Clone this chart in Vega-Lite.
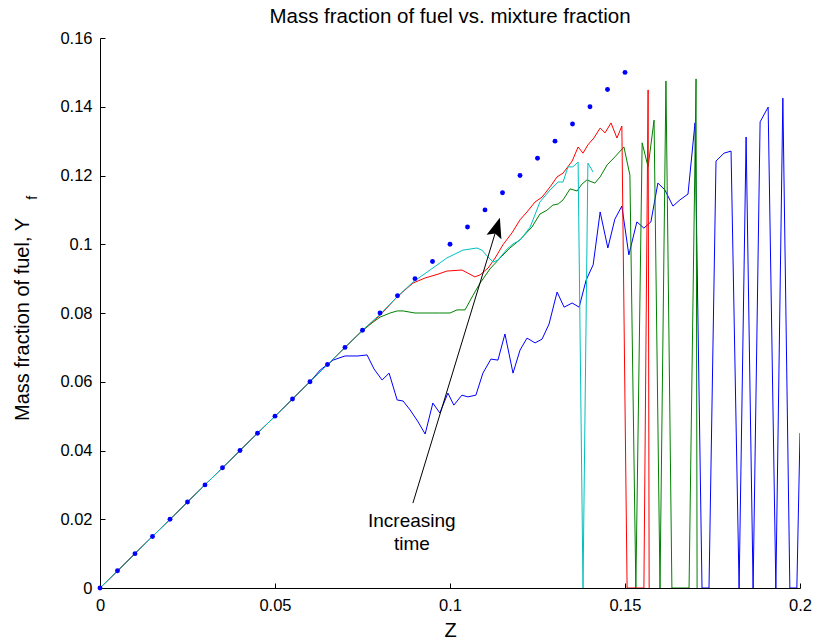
{
  "$schema": "https://vega.github.io/schema/vega-lite/v6.json",
  "width": 700,
  "height": 550,
  "autosize": {"type": "none"},
  "padding": {"left": 100, "top": 38, "right": 15, "bottom": 55},
  "background": "white",
  "title": {"text": "Mass fraction of fuel vs. mixture fraction", "font": "Liberation Sans", "fontSize": 20.5, "fontWeight": "normal", "color": "#000000", "offset": 3, "anchor": "middle"},
  "config": {"view": {"stroke": null}},
  "datasets": {
    "lines": [
      {"s":"blue","i":0,"Z":0,"Y":0},{"s":"blue","i":1,"Z":0.01,"Y":0.01},{"s":"blue","i":2,"Z":0.02,"Y":0.02},{"s":"blue","i":3,"Z":0.03,"Y":0.03},{"s":"blue","i":4,"Z":0.04,"Y":0.04},{"s":"blue","i":5,"Z":0.05,"Y":0.05},{"s":"blue","i":6,"Z":0.06,"Y":0.06},
      {"s":"blue","i":7,"Z":0.0629,"Y":0.0634},{"s":"blue","i":8,"Z":0.0666,"Y":0.0663},{"s":"blue","i":9,"Z":0.07,"Y":0.0675},{"s":"blue","i":10,"Z":0.0737,"Y":0.0675},{"s":"blue","i":11,"Z":0.0763,"Y":0.0678},{"s":"blue","i":12,"Z":0.0783,"Y":0.0637},{"s":"blue","i":13,"Z":0.0806,"Y":0.0605},{"s":"blue","i":14,"Z":0.0826,"Y":0.0625},{"s":"blue","i":15,"Z":0.0849,"Y":0.0547},{"s":"blue","i":16,"Z":0.0866,"Y":0.0544},{"s":"blue","i":17,"Z":0.0886,"Y":0.0518},{"s":"blue","i":18,"Z":0.0909,"Y":0.0483},{"s":"blue","i":19,"Z":0.0929,"Y":0.0448},{"s":"blue","i":20,"Z":0.0951,"Y":0.0538},{"s":"blue","i":21,"Z":0.0971,"Y":0.0509},{"s":"blue","i":22,"Z":0.0994,"Y":0.0567},{"s":"blue","i":23,"Z":0.1011,"Y":0.0532},{"s":"blue","i":24,"Z":0.1034,"Y":0.0561},{"s":"blue","i":25,"Z":0.1051,"Y":0.0556},{"s":"blue","i":26,"Z":0.1074,"Y":0.0561},{"s":"blue","i":27,"Z":0.1094,"Y":0.0625},{"s":"blue","i":28,"Z":0.1117,"Y":0.0666},{"s":"blue","i":29,"Z":0.1137,"Y":0.0663},{"s":"blue","i":30,"Z":0.1157,"Y":0.0739},{"s":"blue","i":31,"Z":0.118,"Y":0.0625},{"s":"blue","i":32,"Z":0.12,"Y":0.0692},{"s":"blue","i":33,"Z":0.122,"Y":0.0727},{"s":"blue","i":34,"Z":0.1243,"Y":0.0713},{"s":"blue","i":35,"Z":0.1263,"Y":0.0724},{"s":"blue","i":36,"Z":0.1283,"Y":0.0768},{"s":"blue","i":37,"Z":0.1306,"Y":0.0861},{"s":"blue","i":38,"Z":0.1326,"Y":0.0817},{"s":"blue","i":39,"Z":0.1349,"Y":0.0829},{"s":"blue","i":40,"Z":0.1369,"Y":0.0817},{"s":"blue","i":41,"Z":0.1389,"Y":0.0896},{"s":"blue","i":42,"Z":0.1409,"Y":0.094},{"s":"blue","i":43,"Z":0.1429,"Y":0.1094},{"s":"blue","i":44,"Z":0.1451,"Y":0.0989},{"s":"blue","i":45,"Z":0.1471,"Y":0.1073},{"s":"blue","i":46,"Z":0.1491,"Y":0.1111},{"s":"blue","i":47,"Z":0.1511,"Y":0.0969},{"s":"blue","i":48,"Z":0.1534,"Y":0.1065},{"s":"blue","i":49,"Z":0.1554,"Y":0.1047},{"s":"blue","i":50,"Z":0.1574,"Y":0.1065},{"s":"blue","i":51,"Z":0.1594,"Y":0.1178},{"s":"blue","i":52,"Z":0.1614,"Y":0.1158},{"s":"blue","i":53,"Z":0.1637,"Y":0.1111},{"s":"blue","i":54,"Z":0.1657,"Y":0.1129},{"s":"blue","i":55,"Z":0.168,"Y":0.1146},{"s":"blue","i":56,"Z":0.17,"Y":0.1353},{"s":"blue","i":57,"Z":0.172,"Y":0},{"s":"blue","i":58,"Z":0.174,"Y":0},{"s":"blue","i":59,"Z":0.176,"Y":0.1242},{"s":"blue","i":60,"Z":0.1783,"Y":0.1265},{"s":"blue","i":61,"Z":0.1803,"Y":0.1271},{"s":"blue","i":62,"Z":0.1826,"Y":0},{"s":"blue","i":63,"Z":0.1846,"Y":0.1312},{"s":"blue","i":64,"Z":0.1866,"Y":0},{"s":"blue","i":65,"Z":0.1886,"Y":0.1356},{"s":"blue","i":66,"Z":0.1909,"Y":0.1399},{"s":"blue","i":67,"Z":0.1931,"Y":0},{"s":"blue","i":68,"Z":0.1951,"Y":0.1425},{"s":"blue","i":69,"Z":0.1971,"Y":0},{"s":"blue","i":70,"Z":0.1991,"Y":0},{"s":"blue","i":71,"Z":0.2,"Y":0.0451},
      {"s":"green","i":0,"Z":0,"Y":0},{"s":"green","i":1,"Z":0.01,"Y":0.01},{"s":"green","i":2,"Z":0.02,"Y":0.02},{"s":"green","i":3,"Z":0.03,"Y":0.03},{"s":"green","i":4,"Z":0.04,"Y":0.04},{"s":"green","i":5,"Z":0.05,"Y":0.05},{"s":"green","i":6,"Z":0.06,"Y":0.06},{"s":"green","i":7,"Z":0.07,"Y":0.07},{"s":"green","i":8,"Z":0.0751,"Y":0.0749},{"s":"green","i":9,"Z":0.0777,"Y":0.0771},{"s":"green","i":10,"Z":0.08,"Y":0.0788},{"s":"green","i":11,"Z":0.0829,"Y":0.08},{"s":"green","i":12,"Z":0.0849,"Y":0.0806},{"s":"green","i":13,"Z":0.0866,"Y":0.0806},{"s":"green","i":14,"Z":0.09,"Y":0.08},{"s":"green","i":15,"Z":0.0934,"Y":0.08},{"s":"green","i":16,"Z":0.0971,"Y":0.08},{"s":"green","i":17,"Z":0.1,"Y":0.08},{"s":"green","i":18,"Z":0.102,"Y":0.0809},{"s":"green","i":19,"Z":0.1043,"Y":0.0809},{"s":"green","i":20,"Z":0.1066,"Y":0.0852},{"s":"green","i":21,"Z":0.1086,"Y":0.0887},{"s":"green","i":22,"Z":0.1114,"Y":0.0928},{"s":"green","i":23,"Z":0.1143,"Y":0.096},{"s":"green","i":24,"Z":0.1171,"Y":0.0989},{"s":"green","i":25,"Z":0.12,"Y":0.1013},{"s":"green","i":26,"Z":0.1234,"Y":0.105},{"s":"green","i":27,"Z":0.1257,"Y":0.1088},{"s":"green","i":28,"Z":0.1277,"Y":0.1099},{"s":"green","i":29,"Z":0.1294,"Y":0.1114},{"s":"green","i":30,"Z":0.1309,"Y":0.1117},{"s":"green","i":31,"Z":0.1323,"Y":0.1129},{"s":"green","i":32,"Z":0.1343,"Y":0.1161},{"s":"green","i":33,"Z":0.1363,"Y":0.1155},{"s":"green","i":34,"Z":0.1377,"Y":0.1175},{"s":"green","i":35,"Z":0.1391,"Y":0.1187},{"s":"green","i":36,"Z":0.1414,"Y":0.1178},{"s":"green","i":37,"Z":0.1429,"Y":0.1196},{"s":"green","i":38,"Z":0.1449,"Y":0.1231},{"s":"green","i":39,"Z":0.1471,"Y":0.1254},{"s":"green","i":40,"Z":0.1497,"Y":0.1283},{"s":"green","i":41,"Z":0.1514,"Y":0.1201},{"s":"green","i":42,"Z":0.1531,"Y":0},{"s":"green","i":43,"Z":0.1549,"Y":0.1295},{"s":"green","i":44,"Z":0.1566,"Y":0.1225},{"s":"green","i":45,"Z":0.1583,"Y":0.1361},{"s":"green","i":46,"Z":0.16,"Y":0},{"s":"green","i":47,"Z":0.1617,"Y":0.1475},{"s":"green","i":48,"Z":0.1634,"Y":0},{"s":"green","i":49,"Z":0.1683,"Y":0},{"s":"green","i":50,"Z":0.1703,"Y":0.1481},{"s":"green","i":51,"Z":0.1706,"Y":0},
      {"s":"red","i":0,"Z":0,"Y":0},{"s":"red","i":1,"Z":0.01,"Y":0.01},{"s":"red","i":2,"Z":0.02,"Y":0.02},{"s":"red","i":3,"Z":0.03,"Y":0.03},{"s":"red","i":4,"Z":0.04,"Y":0.04},{"s":"red","i":5,"Z":0.05,"Y":0.05},{"s":"red","i":6,"Z":0.06,"Y":0.06},{"s":"red","i":7,"Z":0.07,"Y":0.07},{"s":"red","i":8,"Z":0.075,"Y":0.075},{"s":"red","i":9,"Z":0.08,"Y":0.0793},{"s":"red","i":10,"Z":0.0849,"Y":0.0847},{"s":"red","i":11,"Z":0.0894,"Y":0.0887},{"s":"red","i":12,"Z":0.0929,"Y":0.0902},{"s":"red","i":13,"Z":0.0966,"Y":0.0913},{"s":"red","i":14,"Z":0.0991,"Y":0.0922},{"s":"red","i":15,"Z":0.1034,"Y":0.0925},{"s":"red","i":16,"Z":0.1051,"Y":0.0916},{"s":"red","i":17,"Z":0.1071,"Y":0.0905},{"s":"red","i":18,"Z":0.1086,"Y":0.0911},{"s":"red","i":19,"Z":0.1109,"Y":0.0931},{"s":"red","i":20,"Z":0.1129,"Y":0.096},{"s":"red","i":21,"Z":0.1151,"Y":0.0998},{"s":"red","i":22,"Z":0.1177,"Y":0.1033},{"s":"red","i":23,"Z":0.12,"Y":0.1071},{"s":"red","i":24,"Z":0.122,"Y":0.1094},{"s":"red","i":25,"Z":0.1243,"Y":0.1123},{"s":"red","i":26,"Z":0.1263,"Y":0.1137},{"s":"red","i":27,"Z":0.1286,"Y":0.1167},{"s":"red","i":28,"Z":0.1306,"Y":0.1196},{"s":"red","i":29,"Z":0.1323,"Y":0.1207},{"s":"red","i":30,"Z":0.1349,"Y":0.1242},{"s":"red","i":31,"Z":0.1366,"Y":0.1283},{"s":"red","i":32,"Z":0.138,"Y":0.1265},{"s":"red","i":33,"Z":0.1394,"Y":0.1289},{"s":"red","i":34,"Z":0.1411,"Y":0.1309},{"s":"red","i":35,"Z":0.1429,"Y":0.1338},{"s":"red","i":36,"Z":0.1443,"Y":0.1324},{"s":"red","i":37,"Z":0.146,"Y":0.1353},{"s":"red","i":38,"Z":0.1477,"Y":0.1309},{"s":"red","i":39,"Z":0.1491,"Y":0.1344},{"s":"red","i":40,"Z":0.1506,"Y":0},{"s":"red","i":41,"Z":0.1554,"Y":0},{"s":"red","i":42,"Z":0.1566,"Y":0.1449},{"s":"red","i":43,"Z":0.1569,"Y":0},
      {"s":"cyan","i":0,"Z":0,"Y":0},{"s":"cyan","i":1,"Z":0.01,"Y":0.01},{"s":"cyan","i":2,"Z":0.02,"Y":0.02},{"s":"cyan","i":3,"Z":0.03,"Y":0.03},{"s":"cyan","i":4,"Z":0.04,"Y":0.04},{"s":"cyan","i":5,"Z":0.05,"Y":0.05},{"s":"cyan","i":6,"Z":0.06,"Y":0.06},{"s":"cyan","i":7,"Z":0.07,"Y":0.07},{"s":"cyan","i":8,"Z":0.075,"Y":0.075},{"s":"cyan","i":9,"Z":0.08,"Y":0.0796},{"s":"cyan","i":10,"Z":0.0849,"Y":0.0847},{"s":"cyan","i":11,"Z":0.0894,"Y":0.089},{"s":"cyan","i":12,"Z":0.0943,"Y":0.0925},{"s":"cyan","i":13,"Z":0.0991,"Y":0.096},{"s":"cyan","i":14,"Z":0.1037,"Y":0.0983},{"s":"cyan","i":15,"Z":0.1077,"Y":0.0989},{"s":"cyan","i":16,"Z":0.1091,"Y":0.0983},{"s":"cyan","i":17,"Z":0.1106,"Y":0.0966},{"s":"cyan","i":18,"Z":0.1123,"Y":0.0948},{"s":"cyan","i":19,"Z":0.1137,"Y":0.0954},{"s":"cyan","i":20,"Z":0.1163,"Y":0.0986},{"s":"cyan","i":21,"Z":0.118,"Y":0.1001},{"s":"cyan","i":22,"Z":0.12,"Y":0.1012},{"s":"cyan","i":23,"Z":0.1229,"Y":0.105},{"s":"cyan","i":24,"Z":0.1257,"Y":0.1123},{"s":"cyan","i":25,"Z":0.1286,"Y":0.1158},{"s":"cyan","i":26,"Z":0.1309,"Y":0.1181},{"s":"cyan","i":27,"Z":0.1323,"Y":0.1181},{"s":"cyan","i":28,"Z":0.1337,"Y":0.1225},{"s":"cyan","i":29,"Z":0.1351,"Y":0.1225},{"s":"cyan","i":30,"Z":0.1366,"Y":0.1239},{"s":"cyan","i":31,"Z":0.138,"Y":0},{"s":"cyan","i":32,"Z":0.1394,"Y":0.1236},{"s":"cyan","i":33,"Z":0.1409,"Y":0.121}
    ],
    "dots": [
      {"Z":0,"Y":0},{"Z":0.005,"Y":0.005},{"Z":0.01,"Y":0.01},{"Z":0.015,"Y":0.015},{"Z":0.02,"Y":0.02},{"Z":0.025,"Y":0.025},{"Z":0.03,"Y":0.03},{"Z":0.035,"Y":0.035},{"Z":0.04,"Y":0.04},{"Z":0.045,"Y":0.045},{"Z":0.05,"Y":0.05},{"Z":0.055,"Y":0.055},{"Z":0.06,"Y":0.06},{"Z":0.065,"Y":0.065},{"Z":0.07,"Y":0.07},{"Z":0.075,"Y":0.075},{"Z":0.08,"Y":0.08},{"Z":0.085,"Y":0.085},{"Z":0.09,"Y":0.09},{"Z":0.095,"Y":0.095},{"Z":0.1,"Y":0.1},{"Z":0.105,"Y":0.105},{"Z":0.11,"Y":0.11},{"Z":0.115,"Y":0.115},{"Z":0.12,"Y":0.12},{"Z":0.125,"Y":0.125},{"Z":0.13,"Y":0.13},{"Z":0.135,"Y":0.135},{"Z":0.14,"Y":0.14},{"Z":0.145,"Y":0.145},{"Z":0.15,"Y":0.15}
    ],
    "arrow": [{"Z":0.0894,"Y":0.0247,"Z2":0.1132,"Y2":0.1042}],
    "head": [{"Z":0.1132,"Y":0.1042}],
    "label": [{"Z":0.0891,"Y":0.0195,"t":"Increasing\ntime"}],
    "sub": [{"Z":-0.0191,"Y":0.1135,"t":"f"}]
  },
  "encoding": {
    "x": {"field": "Z", "type": "quantitative",
      "scale": {"domain": [0, 0.2], "nice": false, "zero": false},
      "axis": {"title": "Z", "values": [0, 0.05, 0.1, 0.15, 0.2], "format": "~g", "grid": false,
        "domainColor": "#000000", "domainWidth": 1, "tickColor": "#000000", "tickSize": -5, "labelPadding": 14,
        "labelFont": "Liberation Sans", "labelFontSize": 16.5, "labelColor": "#000000", "labelFlush": false, "labelOverlap": false,
        "titleFont": "Liberation Sans", "titleFontSize": 20, "titleFontWeight": "normal", "titleColor": "#000000",
        "titleY": 48, "titleBaseline": "alphabetic"}},
    "y": {"field": "Y", "type": "quantitative",
      "scale": {"domain": [0, 0.16], "nice": false, "zero": false},
      "axis": {"title": "Mass fraction of fuel, Y", "values": [0, 0.02, 0.04, 0.06, 0.08, 0.1, 0.12, 0.14, 0.16], "format": "~g", "grid": false,
        "domainColor": "#000000", "domainWidth": 1, "tickColor": "#000000", "tickSize": -5, "labelPadding": 13,
        "labelFont": "Liberation Sans", "labelFontSize": 16.5, "labelColor": "#000000", "labelFlush": false, "labelOverlap": false,
        "titleFont": "Liberation Sans", "titleFontSize": 20, "titleFontWeight": "normal", "titleColor": "#000000",
        "titleX": -78, "titleY": 281, "titleAngle": 270, "titleAlign": "center", "titleBaseline": "middle"}}
  },
  "layer": [
    {
      "data": {"name": "lines"},
      "mark": {"type": "line", "strokeWidth": 1, "clip": true},
      "encoding": {
        "color": {"field": "s", "type": "nominal", "legend": null,
          "scale": {"domain": ["blue", "green", "red", "cyan"], "range": ["#0000ff", "#008000", "#ff0000", "#00bfbf"]}},
        "order": {"field": "i", "type": "quantitative"}
      }
    },
    {
      "data": {"name": "dots"},
      "mark": {"type": "point", "filled": true, "size": 24, "color": "#0000ff", "opacity": 1}
    },
    {
      "data": {"name": "arrow"},
      "mark": {"type": "rule", "color": "#000000", "strokeWidth": 1},
      "encoding": {"x2": {"field": "Z2"}, "y2": {"field": "Y2"}}
    },
    {
      "data": {"name": "head"},
      "mark": {"type": "point", "shape": "M0,-1L0.62,0.6L0,0.3L-0.62,0.6Z", "size": 625, "angle": 17, "filled": true, "color": "#000000", "opacity": 1}
    },
    {
      "data": {"name": "label"},
      "mark": {"type": "text", "font": "Liberation Sans", "fontSize": 19, "color": "#000000", "align": "center", "baseline": "middle", "lineBreak": "\n", "lineHeight": 23},
      "encoding": {"text": {"field": "t"}}
    },
    {
      "data": {"name": "sub"},
      "mark": {"type": "text", "font": "Liberation Sans", "fontSize": 14, "color": "#000000", "align": "center", "baseline": "middle", "angle": 270},
      "encoding": {"text": {"field": "t"}}
    }
  ]
}
